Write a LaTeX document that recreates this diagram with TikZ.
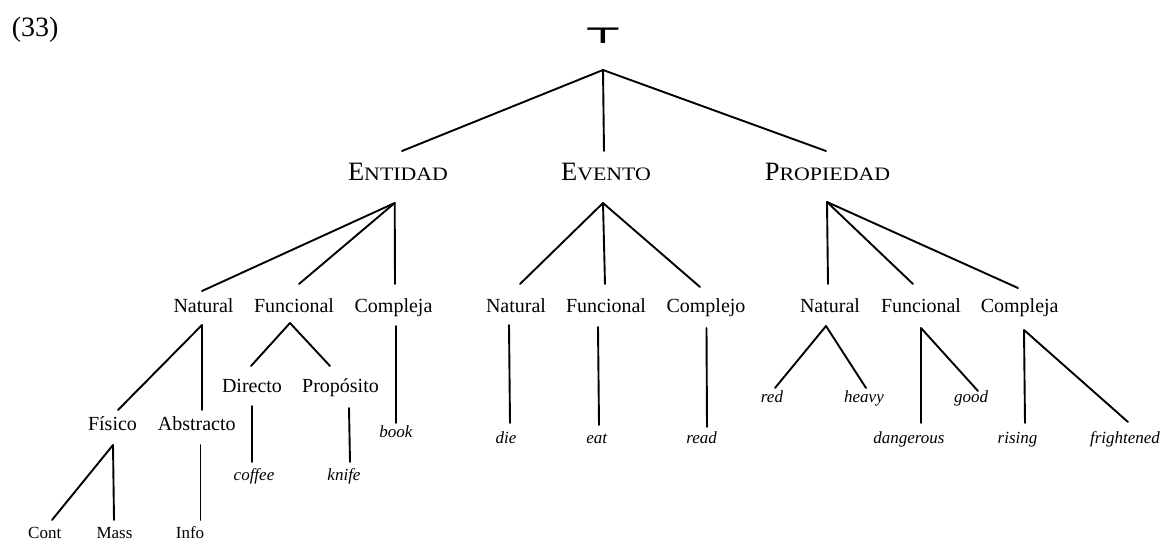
\documentclass[tikz,border=0pt]{standalone}
\usepackage{fontspec}
\setmainfont{Liberation Serif}
\newfontfamily\scfont[FakeStretch=1.15]{Liberation Serif}
\newfontfamily\symfont{DejaVu Sans Bold}
\newcommand\myscap[2]{{\fontsize{26.5}{30}\selectfont #1}{\scfont\fontsize{19}{22}\selectfont #2}}
\begin{document}
\begin{tikzpicture}[x=1pt, y=-1pt,
  cat/.style={anchor=base, inner sep=0pt},
  lbl/.style={anchor=base, inner sep=0pt, font=\fontsize{20}{24}\selectfont},
  lex/.style={anchor=base, inner sep=0pt, font=\fontsize{17}{20}\selectfont\itshape},
  sml/.style={anchor=base, inner sep=0pt, font=\fontsize{17}{20}\selectfont},
  edge/.style={line width=1.9pt, line cap=round}]
\useasboundingbox (0,0) rectangle (1163,541);

\node[anchor=base west, inner sep=0pt, font=\fontsize{28}{32}\selectfont] (num) at (11.7,36) {(33)};
\node[anchor=base, inner sep=0pt, font=\symfont\fontsize{22}{24}\selectfont] (top) at (603,43) {\scalebox{1.9}[1]{⊤}};

% level 1
\node[cat] (ent) at (398,180) {\myscap{E}{NTIDAD}};
\node[cat] (evt) at (606,180) {\myscap{E}{VENTO}};
\node[cat] (pro) at (827.5,180) {\myscap{P}{ROPIEDAD}};

% level 2
\node[lbl] (eNat) at (203.5,312) {Natural};
\node[lbl] (eFun) at (294,312) {Funcional};
\node[lbl] (eCom) at (393.5,312) {Compleja};
\node[lbl] (vNat) at (516,312) {Natural};
\node[lbl] (vFun) at (606,312) {Funcional};
\node[lbl] (vCom) at (706,312) {Complejo};
\node[lbl] (pNat) at (830,312) {Natural};
\node[lbl] (pFun) at (921,312) {Funcional};
\node[lbl] (pCom) at (1019.7,312) {Compleja};

% level 3 (Entidad)
\node[lbl] (dir) at (252,392) {Directo};
\node[lbl] (pro2) at (340.5,392) {Propósito};
\node[lbl] (fis) at (112.5,430) {Físico};
\node[lbl] (abs) at (196.7,430) {Abstracto};
\node[lex] (book) at (396,437) {book};
\node[lex] (coffee) at (254,480) {coffee};
\node[lex] (knife) at (344,480) {knife};
\node[sml] (cont) at (44.7,538) {Cont};
\node[sml] (mass) at (114.5,538) {Mass};
\node[sml] (info) at (190,538) {Info};

% level 3 (Evento)
\node[lex] (die) at (506,443) {die};
\node[lex] (eat) at (596.7,443) {eat};
\node[lex] (read) at (701.7,443) {read};

% level 3 (Propiedad)
\node[lex] (red) at (772,402.5) {red};
\node[lex] (heavy) at (864,402.5) {heavy};
\node[lex] (good) at (971,402.5) {good};
\node[lex] (dang) at (909,443) {dangerous};
\node[lex] (rise) at (1017.5,443) {rising};
\node[lex] (fright) at (1125,443) {frightened};

% connectors: root
\draw[edge] ([shift={(0,27)}]top.base) -- ([shift={(4,-29)}]ent.base);
\draw[edge] ([shift={(0,27)}]top.base) -- ([shift={(-2,-29)}]evt.base);
\draw[edge] ([shift={(0,27)}]top.base) -- ([shift={(-1.5,-29)}]pro.base);

% Entidad
\draw[edge] ([shift={(-3.3,23)}]ent.base) -- ([shift={(-1.5,-21)}]eNat.base);
\draw[edge] ([shift={(-3.3,23)}]ent.base) -- ([shift={(5,-28)}]eFun.base);
\draw[edge] ([shift={(-3.3,23)}]ent.base) -- ([shift={(1.5,-28)}]eCom.base);
% Evento
\draw[edge] ([shift={(-3,23)}]evt.base) -- ([shift={(4,-28)}]vNat.base);
\draw[edge] ([shift={(-3,23)}]evt.base) -- ([shift={(-1,-28)}]vFun.base);
\draw[edge] ([shift={(-3,23)}]evt.base) -- ([shift={(-6,-25)}]vCom.base);
% Propiedad
\draw[edge] ([shift={(-0.5,22)}]pro.base) -- ([shift={(-2,-28)}]pNat.base);
\draw[edge] ([shift={(-0.5,22)}]pro.base) -- ([shift={(-8,-28)}]pFun.base);
\draw[edge] ([shift={(-0.5,22)}]pro.base) -- ([shift={(-1.7,-24)}]pCom.base);

% Entidad level 2 -> 3
\draw[edge] ([shift={(-1.5,13)}]eNat.base) -- ([shift={(5.5,-20)}]fis.base);
\draw[edge] ([shift={(-1.5,13)}]eNat.base) -- ([shift={(5.3,-20)}]abs.base);
\draw[edge] ([shift={(-4,11)}]eFun.base) -- ([shift={(-1,-26)}]dir.base);
\draw[edge] ([shift={(-4,11)}]eFun.base) -- ([shift={(-10.5,-26)}]pro2.base);
\draw[edge] ([shift={(2.5,14)}]eCom.base) -- ([shift={(0,-14)}]book.base);
\draw[edge] ([shift={(0,14)}]dir.base) -- ([shift={(-2,-18)}]coffee.base);
\draw[edge] ([shift={(8.5,16)}]pro2.base) -- ([shift={(6,-18)}]knife.base);
\draw[edge] ([shift={(0.5,15)}]fis.base) -- ([shift={(7.3,-18)}]cont.base);
\draw[edge] ([shift={(0.5,15)}]fis.base) -- ([shift={(-0.5,-18)}]mass.base);
\draw[edge] ([shift={(3.8,15)}]abs.base) -- ([shift={(10.5,-18)}]info.base);

% Evento level 2 -> 3
\draw[edge] ([shift={(-7,13)}]vNat.base) -- ([shift={(4,-20)}]die.base);
\draw[edge] ([shift={(-8,15)}]vFun.base) -- ([shift={(2.3,-18)}]eat.base);
\draw[edge] ([shift={(0.5,16)}]vCom.base) -- ([shift={(5.3,-16)}]read.base);

% Propiedad level 2 -> 3
\draw[edge] ([shift={(-4,14)}]pNat.base) -- ([shift={(3,-14.5)}]red.base);
\draw[edge] ([shift={(-4,14)}]pNat.base) -- ([shift={(2,-14.5)}]heavy.base);
\draw[edge] ([shift={(0,16)}]pFun.base) -- ([shift={(12,-20)}]dang.base);
\draw[edge] ([shift={(0,16)}]pFun.base) -- ([shift={(7,-11.5)}]good.base);
\draw[edge] ([shift={(4.3,18)}]pCom.base) -- ([shift={(7.5,-20)}]rise.base);
\draw[edge] ([shift={(4.3,18)}]pCom.base) -- ([shift={(3,-21)}]fright.base);
\end{tikzpicture}
\end{document}
